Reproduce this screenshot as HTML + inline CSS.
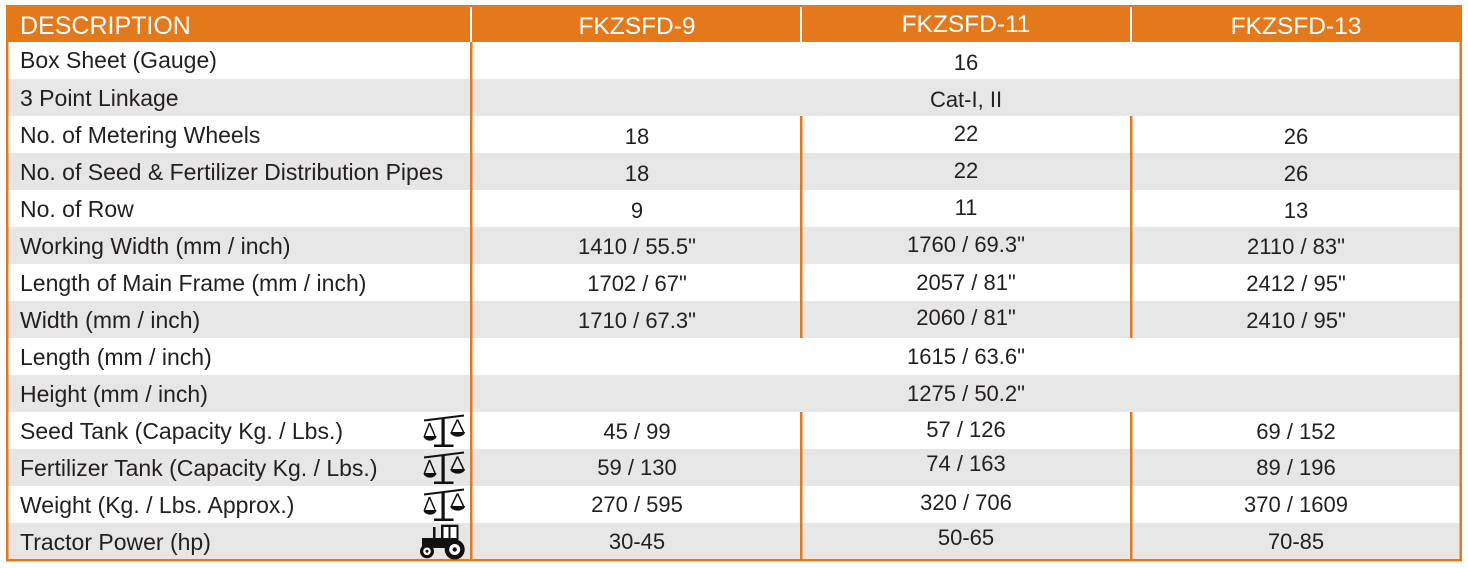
<!DOCTYPE html>
<html><head><meta charset="utf-8"><style>
html,body{margin:0;padding:0;background:#fff;}
svg{display:block;}
text{font-family:"Liberation Sans",Arial,sans-serif;}
.l{font-size:23px;fill:#231f20;}
.v{font-size:22px;fill:#231f20;text-anchor:middle;}
.h{font-size:25px;fill:#fff;}
.hc{font-size:24.5px;fill:#fff;text-anchor:middle;}
</style></head><body>
<svg width="1468" height="568" viewBox="0 0 1468 568" xmlns="http://www.w3.org/2000/svg">
<rect x="0" y="0" width="1468" height="568" fill="#fff"/>
<!-- gray rows -->
<g fill="#e6e6e6">
<rect x="8" y="79" width="1452" height="37"/>
<rect x="8" y="153" width="1452" height="37"/>
<rect x="8" y="227" width="1452" height="37"/>
<rect x="8" y="301" width="1452" height="37"/>
<rect x="8" y="375" width="1452" height="37"/>
<rect x="8" y="449" width="1452" height="37"/>
<rect x="8" y="523" width="1452" height="37"/>
</g>
<!-- header -->
<rect x="6" y="5" width="1456" height="37" fill="#e4791c"/>
<g fill="#fff">
<rect x="470" y="7" width="2" height="35"/>
<rect x="800" y="7" width="2" height="35"/>
<rect x="1130" y="7" width="2" height="35"/>
</g>
<!-- borders -->
<g fill="#e4791c">
<rect x="6" y="42" width="2.5" height="519"/>
<rect x="1459.5" y="42" width="2.5" height="519"/>
<rect x="6" y="559" width="1456" height="2.5"/>
<rect x="470" y="42" width="2.5" height="518"/>
<rect x="800" y="116" width="2.5" height="222"/>
<rect x="1130" y="116" width="2.5" height="222"/>
<rect x="800" y="412" width="2.5" height="148"/>
<rect x="1130" y="412" width="2.5" height="148"/>
</g>
<!-- header text -->
<text class="h" x="20" y="34">DESCRIPTION</text>
<text class="hc" x="637" y="34">FKZSFD-9</text>
<text class="hc" x="966" y="32">FKZSFD-11</text>
<text class="hc" x="1296" y="34">FKZSFD-13</text>
<!-- labels -->
<text class="l" x="20" y="68">Box Sheet (Gauge)</text>
<text class="l" x="20" y="106">3 Point Linkage</text>
<text class="l" x="20" y="143">No. of Metering Wheels</text>
<text class="l" x="20" y="180">No. of Seed &amp; Fertilizer Distribution Pipes</text>
<text class="l" x="20" y="217">No. of Row</text>
<text class="l" x="20" y="254">Working Width (mm / inch)</text>
<text class="l" x="20" y="291">Length of Main Frame (mm / inch)</text>
<text class="l" x="20" y="328">Width (mm / inch)</text>
<text class="l" x="20" y="365">Length (mm / inch)</text>
<text class="l" x="20" y="402">Height (mm / inch)</text>
<text class="l" x="20" y="439">Seed Tank (Capacity Kg. / Lbs.)</text>
<text class="l" x="20" y="476">Fertilizer Tank (Capacity Kg. / Lbs.)</text>
<text class="l" x="20" y="513">Weight (Kg. / Lbs. Approx.)</text>
<text class="l" x="20" y="550">Tractor Power (hp)</text>
<!-- merged values -->
<text class="v" x="966" y="70">16</text>
<text class="v" x="966" y="107">Cat-I, II</text>
<text class="v" x="966" y="364">1615 / 63.6"</text>
<text class="v" x="966" y="401">1275 / 50.2"</text>
<!-- col 2 -->
<g>
<text class="v" x="637" y="144">18</text>
<text class="v" x="637" y="181">18</text>
<text class="v" x="637" y="218">9</text>
<text class="v" x="637" y="254">1410 / 55.5"</text>
<text class="v" x="637" y="291">1702 / 67"</text>
<text class="v" x="637" y="328">1710 / 67.3"</text>
<text class="v" x="637" y="439">45 / 99</text>
<text class="v" x="637" y="475">59 / 130</text>
<text class="v" x="637" y="512">270 / 595</text>
<text class="v" x="637" y="549">30-45</text>
</g>
<!-- col 3 -->
<g>
<text class="v" x="966" y="141">22</text>
<text class="v" x="966" y="178">22</text>
<text class="v" x="966" y="215">11</text>
<text class="v" x="966" y="252">1760 / 69.3"</text>
<text class="v" x="966" y="290">2057 / 81"</text>
<text class="v" x="966" y="325">2060 / 81"</text>
<text class="v" x="966" y="437">57 / 126</text>
<text class="v" x="966" y="471">74 / 163</text>
<text class="v" x="966" y="510">320 / 706</text>
<text class="v" x="966" y="545">50-65</text>
</g>
<!-- col 4 -->
<g>
<text class="v" x="1296" y="144">26</text>
<text class="v" x="1296" y="181">26</text>
<text class="v" x="1296" y="218">13</text>
<text class="v" x="1296" y="254">2110 / 83"</text>
<text class="v" x="1296" y="291">2412 / 95"</text>
<text class="v" x="1296" y="328">2410 / 95"</text>
<text class="v" x="1296" y="439">69 / 152</text>
<text class="v" x="1296" y="475">89 / 196</text>
<text class="v" x="1296" y="512">370 / 1609</text>
<text class="v" x="1296" y="549">70-85</text>
</g>
<!-- scale icons -->
<defs>
<g id="scale">
<line x1="424" y1="8.5" x2="464" y2="3.5" stroke="#111" stroke-width="2"/>
<rect x="441.5" y="6" width="3.2" height="27" fill="#111"/>
<rect x="434" y="32.5" width="19.5" height="2.5" fill="#111"/>
<path d="M429.5,11 L424.5,24 M429.5,11 L435,24" stroke="#111" stroke-width="1.5" fill="none"/>
<path d="M423.5,24 L436.5,24 A6.5,4.6 0 0 1 423.5,24 Z" fill="#111"/>
<path d="M457.5,7.5 L451.5,20 M457.5,7.5 L463.5,20" stroke="#111" stroke-width="1.5" fill="none"/>
<path d="M450.3,20 L465,20 A7.35,4.6 0 0 1 450.3,20 Z" fill="#111"/>
</g>
</defs>
<use href="#scale" transform="translate(0,412)"/>
<use href="#scale" transform="translate(0,449)"/>
<use href="#scale" transform="translate(0,486)"/>
<!-- tractor -->
<g transform="translate(0,523)">
<rect x="441" y="1.7" width="17.5" height="16" fill="#111"/>
<rect x="443.5" y="4" width="5" height="11" fill="#fff"/>
<rect x="450.5" y="4" width="6" height="11" fill="#fff"/>
<rect x="422" y="15" width="36" height="10" fill="#111"/>
<rect x="433" y="4" width="2.5" height="12" fill="#111"/>
<circle cx="454.7" cy="26.5" r="10" fill="#111"/>
<circle cx="454.7" cy="26.5" r="5.5" fill="#fff"/>
<circle cx="454.7" cy="26.5" r="2.2" fill="#111"/>
<circle cx="427" cy="28.3" r="7" fill="#111"/>
<circle cx="427" cy="28.3" r="3.8" fill="#fff"/>
<circle cx="427" cy="28.3" r="1.5" fill="#111"/>
</g>
</svg>
</body></html>
